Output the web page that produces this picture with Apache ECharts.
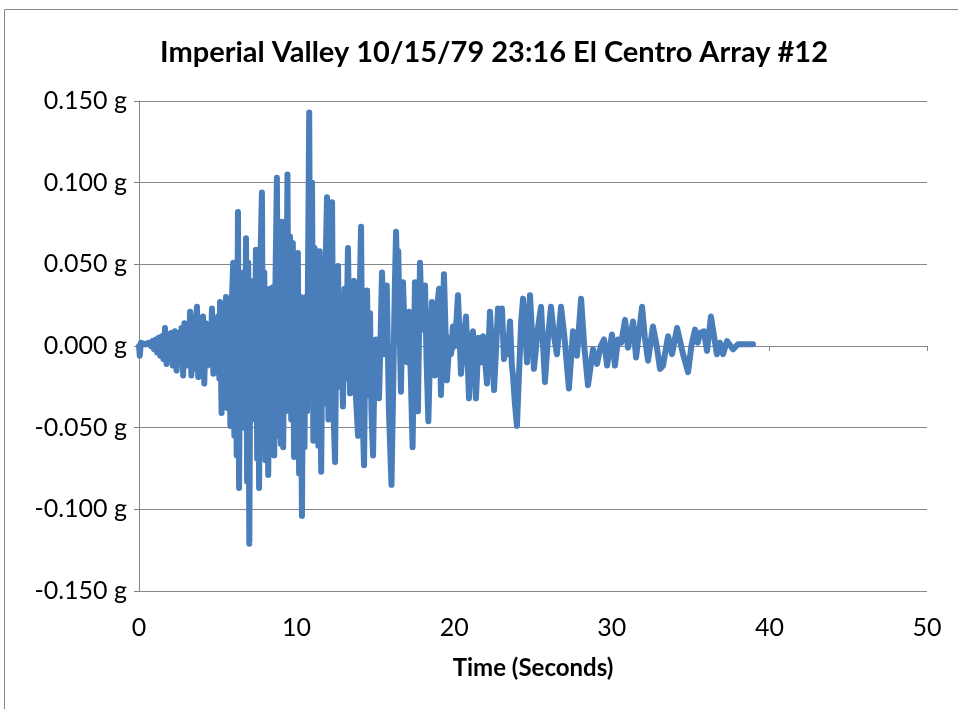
<!DOCTYPE html>
<html>
<head>
<meta charset="utf-8">
<title>Imperial Valley El Centro Array #12</title>
<script src="https://cdn.jsdelivr.net/npm/echarts@6/dist/echarts.min.js"></script>
<style>
	html, body { margin: 0; padding: 0; background: #fff; }
	#accel_chart { width: 958px; height: 709px; }
</style>
</head>
<body>
<div id="accel_chart"></div>
<script>
// 时间 (秒)
var timeSec = [
	0.00, 0.05, 0.12, 0.40, 0.60, 0.75, 0.85, 0.95, 1.05, 1.15, 1.25, 1.35, 1.45, 1.55, 1.65, 1.75, 1.85, 1.95,
	2.05, 2.15, 2.28, 2.38, 2.48, 2.58, 2.70, 2.80, 2.88, 2.98, 3.08, 3.16, 3.24, 3.32, 3.42, 3.50, 3.60, 3.68,
	3.76, 3.86, 3.96, 4.06, 4.14, 4.24, 4.34, 4.44, 4.54, 4.63, 4.72, 4.82, 4.92, 5.02, 5.10, 5.14, 5.24, 5.32,
	5.42, 5.52, 5.60, 5.70, 5.80, 5.90, 5.98, 6.05, 6.12, 6.20, 6.28, 6.35, 6.44, 6.52, 6.62, 6.72, 6.79, 6.86,
	6.93, 7.00, 7.08, 7.16, 7.26, 7.34, 7.42, 7.50, 7.56, 7.62, 7.70, 7.80, 7.88, 7.95, 8.02, 8.10, 8.20, 8.30,
	8.40, 8.50, 8.58, 8.66, 8.75, 8.84, 8.92, 9.00, 9.07, 9.15, 9.24, 9.32, 9.42, 9.50, 9.58, 9.66, 9.76, 9.84,
	9.92, 10.00, 10.08, 10.16, 10.25, 10.34, 10.42, 10.50, 10.58, 10.66, 10.80, 10.88, 10.98, 11.06, 11.14, 11.22,
	11.30, 11.38, 11.46, 11.56, 11.66, 11.76, 11.84, 11.93, 12.02, 12.12, 12.25, 12.34, 12.44, 12.54, 12.63, 12.72,
	12.80, 12.94, 13.04, 13.12, 13.26, 13.39, 13.50, 13.64, 13.76, 13.90, 14.00, 14.09, 14.18, 14.28, 14.38, 14.47,
	14.56, 14.66, 14.75, 14.85, 14.95, 15.04, 15.12, 15.23, 15.34, 15.42, 15.52, 15.60, 15.72, 15.86, 16.02, 16.12,
	16.22, 16.31, 16.38, 16.45, 16.54, 16.62, 16.75, 16.88, 17.01, 17.13, 17.25, 17.36, 17.45, 17.51, 17.60, 17.70,
	17.83, 17.95, 18.05, 18.15, 18.25, 18.36, 18.48, 18.59, 18.68, 18.78, 18.91, 19.04, 19.16, 19.35, 19.54, 19.70,
	19.80, 19.92, 20.05, 20.24, 20.43, 20.60, 20.75, 20.94, 21.05, 21.19, 21.38, 21.55, 21.70, 21.83, 22.08, 22.27,
	22.53, 22.78, 22.90, 23.03, 23.16, 23.30, 23.40, 23.54, 23.66, 23.73, 23.85, 23.98, 24.10, 24.25, 24.37, 24.50,
	24.62, 24.81, 25.06, 25.30, 25.51, 25.76, 25.95, 26.14, 26.35, 26.52, 26.78, 27.00, 27.28, 27.54, 27.79, 28.05,
	28.25, 28.49, 28.81, 29.06, 29.30, 29.51, 29.70, 30.01, 30.20, 30.39, 30.60, 30.84, 31.03, 31.35, 31.54, 31.92,
	32.10, 32.30, 32.61, 32.85, 33.06, 33.25, 33.57, 33.82, 34.14, 34.52, 34.84, 35.05, 35.28, 35.45, 35.60, 35.85,
	36.04, 36.29, 36.67, 36.86, 37.06, 37.31, 37.69, 38.00, 38.32, 38.96
];
// 加速度 (g)
var accelG = [
	0.000, -0.006, 0.002, 0.001, 0.002, 0.000, 0.003, -0.002, 0.004, -0.004, 0.005, -0.006, 0.006, -0.008, 0.011, -0.011, 0.007, -0.008,
	0.008, -0.012, 0.009, -0.015, 0.008, -0.010, 0.011, -0.018, 0.014, -0.012, 0.012, -0.010, 0.021, -0.018, 0.012, -0.014, 0.016, 0.024,
	-0.019, 0.012, -0.016, 0.018, -0.023, 0.014, -0.012, 0.012, -0.010, 0.023, -0.017, 0.013, -0.016, 0.018, -0.020, 0.027, -0.041, 0.015,
	-0.022, 0.030, -0.038, 0.020, -0.049, 0.030, 0.051, -0.055, 0.035, -0.067, 0.082, -0.087, 0.045, -0.050, 0.040, -0.030, 0.066, -0.083,
	0.051, -0.121, 0.035, -0.045, 0.040, -0.030, 0.059, -0.069, 0.030, -0.087, 0.050, 0.094, -0.060, 0.045, -0.070, 0.030, -0.079, 0.035,
	-0.050, 0.036, -0.067, 0.040, 0.103, -0.055, 0.050, -0.060, 0.076, -0.062, 0.045, -0.040, 0.105, -0.026, 0.067, -0.045, 0.063, -0.068,
	0.040, -0.030, 0.057, -0.078, 0.030, -0.104, 0.024, -0.062, 0.030, -0.040, 0.143, -0.030, 0.100, -0.058, 0.060, -0.040,
	0.045, -0.061, 0.058, -0.077, 0.040, -0.035, 0.050, 0.091, -0.045, 0.050, 0.088, -0.040, -0.071, 0.030, 0.049, -0.025,
	0.030, -0.037, 0.035, -0.020, 0.060, -0.029, 0.030, 0.040, -0.030, -0.055, 0.030, 0.073, -0.040, -0.073, 0.020, 0.034,
	-0.030, 0.020, -0.040, -0.067, -0.010, 0.004, -0.020, -0.032, 0.010, 0.045, -0.005, 0.020, 0.037, -0.040, -0.085, -0.030,
	0.030, 0.070, 0.040, 0.058, 0.010, -0.028, 0.039, 0.000, -0.010, 0.021, -0.020, -0.062, 0.000, 0.039, 0.005, -0.040,
	0.051, 0.010, 0.025, 0.037, -0.010, -0.046, 0.000, 0.027, 0.005, -0.018, 0.023, 0.035, -0.030, 0.044, -0.021, 0.005,
	-0.005, 0.012, 0.000, 0.031, -0.017, 0.005, 0.018, -0.032, 0.000, 0.009, -0.032, 0.005, -0.010, 0.006, -0.023, 0.021,
	-0.027, 0.023, 0.010, 0.023, -0.008, 0.005, -0.005, 0.015, -0.012, -0.018, -0.035, -0.049, -0.020, 0.015, 0.029, 0.010,
	-0.010, 0.031, -0.014, 0.010, 0.024, -0.022, 0.005, 0.024, 0.005, -0.005, 0.024, 0.005, -0.026, 0.009, -0.006, 0.029,
	0.000, -0.024, -0.002, -0.011, 0.000, 0.004, -0.012, 0.007, -0.012, 0.004, 0.002, 0.016, -0.001, 0.015, -0.007, 0.024,
	0.005, -0.009, 0.012, 0.000, -0.014, -0.012, 0.006, -0.005, 0.011, -0.005, -0.016, 0.000, 0.010, 0.002, 0.008, 0.009,
	-0.003, 0.018, -0.005, 0.002, -0.005, 0.003, -0.002, 0.001, 0.001, 0.001
];
// 坐标轴刻度
var xTicks = [0, 10, 20, 30, 40, 50];
var yTicks = [-0.150, -0.100, -0.050, 0.000, 0.050, 0.100, 0.150];

var chartObj = echarts.init(document.getElementById('accel_chart'));

var seriesData = timeSec.map(function (t, i) {
	return [t, accelG[i]];
});

var axisGray = '#868686';
var fontFamily = 'Lato, "Open Sans", sans-serif';

var option = {
	animation: false,
	backgroundColor: '#ffffff',
	textStyle: { fontFamily: fontFamily },
	title: {
		text: 'Imperial Valley 10/15/79 23:16 El Centro Array #12',
		left: 489,
		top: 33,
		textAlign: 'center',
		textStyle: { fontSize: 29, fontWeight: 'bold', color: '#000', fontFamily: fontFamily }
	},
	//外框
	graphic: [{
		type: 'rect',
		shape: { x: 4.5, y: 9.5, width: 980, height: 720 },
		style: { fill: 'none', stroke: axisGray, lineWidth: 1 },
		silent: true
	}],
	grid: {
		left: 139,
		right: 31,
		top: 101,
		bottom: 118
	},
	xAxis: [
		{
			// 零线上的轴线和刻度
			type: 'value',
			min: xTicks[0],
			max: xTicks[xTicks.length - 1],
			interval: 10,
			axisLine: { show: true, onZero: true, lineStyle: { color: axisGray, width: 1 } },
			axisTick: { show: true, inside: false, length: 5, lineStyle: { color: axisGray } },
			axisLabel: { show: false },
			splitLine: { show: false }
		},
		{
			// 底部标签
			type: 'value',
			position: 'bottom',
			min: xTicks[0],
			max: xTicks[xTicks.length - 1],
			interval: 10,
			axisLine: { show: false, onZero: false },
			axisTick: { show: false },
			splitLine: { show: false },
			axisLabel: { show: true, fontSize: 25, color: '#000', margin: 24 },
			name: 'Time (Seconds)',
			nameLocation: 'middle',
			nameGap: 65,
			nameTextStyle: { fontSize: 24, fontWeight: 'bold', color: '#000' }
		}
	],
	yAxis: {
		type: 'value',
		min: yTicks[0],
		max: yTicks[yTicks.length - 1],
		interval: 0.05,
		axisLine: { show: true, lineStyle: { color: axisGray, width: 1 } },
		axisTick: { show: true, length: 5, lineStyle: { color: axisGray } },
		axisLabel: {
			fontSize: 25,
			color: '#000',
			margin: 12,
			formatter: function (v) { return v.toFixed(3) + ' g'; }
		},
		splitLine: { show: true, lineStyle: { color: axisGray, width: 1 } }
	},
	series: [{
		name: 'Acceleration',
		type: 'line',
		xAxisIndex: 0,
		showSymbol: false,
		silent: true,
		data: seriesData,
		lineStyle: { color: '#4a7ebb', width: 6, cap: 'round', join: 'round' },
		itemStyle: { color: '#4a7ebb' }
	}]
};
chartObj.setOption(option);
</script>
</body>
</html>
